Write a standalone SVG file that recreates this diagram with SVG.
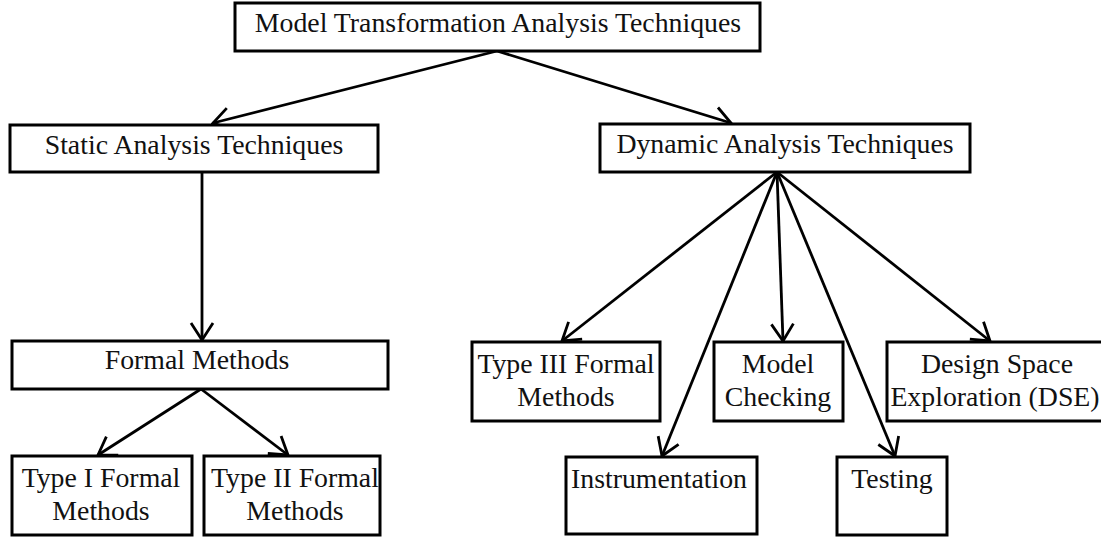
<svg xmlns="http://www.w3.org/2000/svg" width="1101" height="537" viewBox="0 0 1101 537">
<style>
  .box rect { fill: #ffffff; stroke: #000000; stroke-width: 3; }
  .box text { font-family: "Liberation Serif", "Times New Roman", serif; font-size: 27.8px; fill: #111111; text-anchor: middle; }
  #connectors line { stroke: #000000; stroke-width: 2.8; fill: none; marker-end: url(#arrow); }
</style>
<defs>
  <marker id="arrow" viewBox="0 0 22 26" refX="20" refY="13" markerWidth="22" markerHeight="26" markerUnits="userSpaceOnUse" orient="auto">
    <path d="M3,2 L20,13 L3,24" fill="none" stroke="#000000" stroke-width="2.8" stroke-linejoin="miter"/>
  </marker>
</defs>
<rect x="0" y="0" width="1101" height="537" fill="#ffffff"/>

<g id="connectors">
  <line x1="497" y1="51" x2="213" y2="123"/>
  <line x1="497" y1="51" x2="731" y2="123"/>
  <line x1="202" y1="172" x2="202" y2="340"/>
  <line x1="201" y1="389" x2="98" y2="455"/>
  <line x1="201" y1="389" x2="288" y2="455"/>
  <line x1="777" y1="172" x2="562" y2="341"/>
  <line x1="777" y1="172" x2="662" y2="456"/>
  <line x1="777" y1="172" x2="783" y2="341"/>
  <line x1="777" y1="172" x2="895" y2="456"/>
  <line x1="777" y1="172" x2="990" y2="341"/>
</g>

<g id="node-root" class="box">
  <rect x="235" y="3" width="525" height="48"/>
  <text x="498" y="32">Model Transformation Analysis Techniques</text>
</g>
<g id="node-static" class="box">
  <rect x="10" y="125" width="368" height="47"/>
  <text x="194" y="154">Static Analysis Techniques</text>
</g>
<g id="node-dynamic" class="box">
  <rect x="600" y="124" width="370" height="48"/>
  <text x="785" y="153">Dynamic Analysis Techniques</text>
</g>
<g id="node-formal" class="box">
  <rect x="12" y="341" width="376" height="48"/>
  <text x="197" y="369">Formal Methods</text>
</g>
<g id="node-type1" class="box">
  <rect x="12" y="456" width="180" height="79"/>
  <text x="101" y="487">Type I Formal</text>
  <text x="101" y="520">Methods</text>
</g>
<g id="node-type2" class="box">
  <rect x="204" y="456" width="176" height="79"/>
  <text x="295" y="487">Type II Formal</text>
  <text x="295" y="520">Methods</text>
</g>
<g id="node-type3" class="box">
  <rect x="472" y="342" width="188" height="79"/>
  <text x="566" y="373">Type III Formal</text>
  <text x="566" y="406">Methods</text>
</g>
<g id="node-instrumentation" class="box">
  <rect x="566" y="457" width="191" height="77"/>
  <text x="659" y="488">Instrumentation</text>
</g>
<g id="node-modelchecking" class="box">
  <rect x="714" y="342" width="129" height="79"/>
  <text x="778" y="373">Model</text>
  <text x="778" y="406">Checking</text>
</g>
<g id="node-testing" class="box">
  <rect x="837" y="457" width="110" height="78"/>
  <text x="892" y="488">Testing</text>
</g>
<g id="node-dse" class="box">
  <rect x="887" y="342" width="216" height="79"/>
  <text x="997" y="373">Design Space</text>
  <text x="995" y="406">Exploration (DSE)</text>
</g>
</svg>
